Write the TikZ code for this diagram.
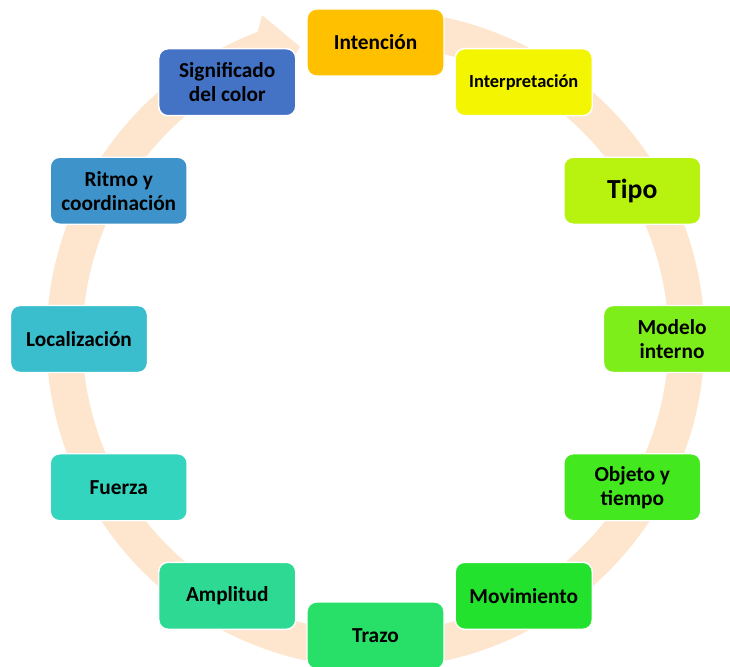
\documentclass[tikz,border=0pt]{standalone}
\usepackage{fontspec}
\setmainfont{Carlito}
\definecolor{bandc}{HTML}{FDE6CD}
\definecolor{c1}{HTML}{FFC000}
\definecolor{c2}{HTML}{F3F600}
\definecolor{c3}{HTML}{B7F30E}
\definecolor{c4}{HTML}{7DEE1A}
\definecolor{c5}{HTML}{43E81E}
\definecolor{c6}{HTML}{22E22E}
\definecolor{c7}{HTML}{28E068}
\definecolor{c8}{HTML}{2DD993}
\definecolor{c9}{HTML}{33D5BE}
\definecolor{c10}{HTML}{3ABECE}
\definecolor{c11}{HTML}{3E94CA}
\definecolor{c12}{HTML}{4472C4}
\tikzset{
  cyclebox/.style={rectangle, rounded corners=7pt, draw=white, line width=1.1pt,
    minimum width=102.75pt, minimum height=50.25pt, inner sep=2pt,
    align=center, text=black, font=\bfseries\fontsize{16}{18}\selectfont},
}
\begin{document}
\begin{tikzpicture}[x=0.75pt,y=0.75pt]
\useasboundingbox (0,0) rectangle (730,-666);
\clip (0,0) rectangle (730,-666);
\fill[white] (0,0) rectangle (730,-666);
\begin{scope}[shift={(375.5,-339)}]
  \fill[bandc] (86:329) arc[start angle=86, end angle=-249, radius=329]
    -- (109.3:343) -- (104.5:302) -- (109.3:279) -- (111:293)
    arc[start angle=-249, end angle=86, radius=293] -- cycle;
  \node[cyclebox, fill=c1] (n1) at (90:296.5) {Intención};
  \node[cyclebox, fill=c2, font=\bfseries\fontsize{13.8}{16}\selectfont] (n2) at (60:296.5) {Interpretación};
  \node[cyclebox, fill=c3, font=\bfseries\fontsize{20.7}{24}\selectfont] (n3) at (30:296.5) {Tipo};
  \node[cyclebox, fill=c4] (n4) at (0:296.5) {Modelo\\interno};
  \node[cyclebox, fill=c5] (n5) at (-30:296.5) {Objeto y\\tiempo};
  \node[cyclebox, fill=c6] (n6) at (-60:296.5) {Movimiento};
  \node[cyclebox, fill=c7] (n7) at (-90:296.5) {Trazo};
  \node[cyclebox, fill=c8] (n8) at (-120:296.5) {Amplitud};
  \node[cyclebox, fill=c9] (n9) at (-150:296.5) {Fuerza};
  \node[cyclebox, fill=c10] (n10) at (180:296.5) {Localización};
  \node[cyclebox, fill=c11] (n11) at (150:296.5) {Ritmo y\\coordinación};
  \node[cyclebox, fill=c12] (n12) at (120:296.5) {Significado\\del color};
\end{scope}
\end{tikzpicture}
\end{document}
